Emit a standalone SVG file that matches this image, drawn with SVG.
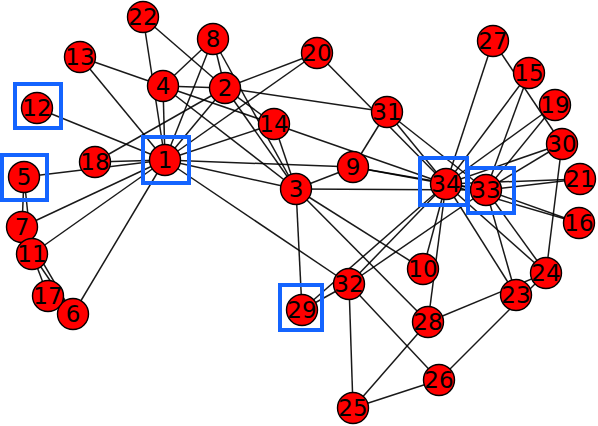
<svg xmlns="http://www.w3.org/2000/svg" width="598" height="426" viewBox="0 0 598 426">
<style>
.e line{stroke:#000;stroke-width:1.5;stroke-opacity:0.9}
.n circle{fill:#ff0000;stroke:#000;stroke-width:1.4}
.n text{font-family:"DejaVu Sans",sans-serif;font-size:23px;fill:#000;text-anchor:middle}
.hl rect{fill:none;stroke:#1464ff;stroke-width:4}
</style>
<rect width="598" height="426" fill="#fff"/>
<g id="edges" class="e">
<line x1="165" y1="160" x2="225" y2="88"/>
<line x1="165" y1="160" x2="296" y2="189"/>
<line x1="165" y1="160" x2="163" y2="86"/>
<line x1="165" y1="160" x2="24" y2="177"/>
<line x1="165" y1="160" x2="73" y2="314"/>
<line x1="165" y1="160" x2="22" y2="227"/>
<line x1="165" y1="160" x2="213" y2="39"/>
<line x1="165" y1="160" x2="353" y2="167"/>
<line x1="165" y1="160" x2="32" y2="254"/>
<line x1="165" y1="160" x2="37" y2="108"/>
<line x1="165" y1="160" x2="80" y2="57"/>
<line x1="165" y1="160" x2="274" y2="124"/>
<line x1="165" y1="160" x2="95" y2="162"/>
<line x1="165" y1="160" x2="317" y2="53"/>
<line x1="165" y1="160" x2="143" y2="17"/>
<line x1="165" y1="160" x2="349" y2="284"/>
<line x1="225" y1="88" x2="296" y2="189"/>
<line x1="225" y1="88" x2="163" y2="86"/>
<line x1="225" y1="88" x2="213" y2="39"/>
<line x1="225" y1="88" x2="274" y2="124"/>
<line x1="225" y1="88" x2="95" y2="162"/>
<line x1="225" y1="88" x2="317" y2="53"/>
<line x1="225" y1="88" x2="143" y2="17"/>
<line x1="225" y1="88" x2="387" y2="112"/>
<line x1="296" y1="189" x2="163" y2="86"/>
<line x1="296" y1="189" x2="213" y2="39"/>
<line x1="296" y1="189" x2="353" y2="167"/>
<line x1="296" y1="189" x2="423" y2="269"/>
<line x1="296" y1="189" x2="274" y2="124"/>
<line x1="296" y1="189" x2="428" y2="322"/>
<line x1="296" y1="189" x2="302" y2="310"/>
<line x1="296" y1="189" x2="486" y2="190"/>
<line x1="163" y1="86" x2="213" y2="39"/>
<line x1="163" y1="86" x2="80" y2="57"/>
<line x1="163" y1="86" x2="274" y2="124"/>
<line x1="24" y1="177" x2="22" y2="227"/>
<line x1="24" y1="177" x2="32" y2="254"/>
<line x1="73" y1="314" x2="22" y2="227"/>
<line x1="73" y1="314" x2="32" y2="254"/>
<line x1="73" y1="314" x2="48" y2="296"/>
<line x1="22" y1="227" x2="48" y2="296"/>
<line x1="353" y1="167" x2="387" y2="112"/>
<line x1="353" y1="167" x2="486" y2="190"/>
<line x1="353" y1="167" x2="446" y2="184"/>
<line x1="423" y1="269" x2="446" y2="184"/>
<line x1="274" y1="124" x2="446" y2="184"/>
<line x1="529" y1="73" x2="486" y2="190"/>
<line x1="529" y1="73" x2="446" y2="184"/>
<line x1="579" y1="223" x2="486" y2="190"/>
<line x1="579" y1="223" x2="446" y2="184"/>
<line x1="555" y1="105" x2="486" y2="190"/>
<line x1="555" y1="105" x2="446" y2="184"/>
<line x1="317" y1="53" x2="446" y2="184"/>
<line x1="580" y1="179" x2="486" y2="190"/>
<line x1="580" y1="179" x2="446" y2="184"/>
<line x1="516" y1="295" x2="486" y2="190"/>
<line x1="516" y1="295" x2="446" y2="184"/>
<line x1="546" y1="273" x2="439" y2="380"/>
<line x1="546" y1="273" x2="428" y2="322"/>
<line x1="546" y1="273" x2="562" y2="144"/>
<line x1="546" y1="273" x2="486" y2="190"/>
<line x1="546" y1="273" x2="446" y2="184"/>
<line x1="353" y1="408" x2="439" y2="380"/>
<line x1="353" y1="408" x2="428" y2="322"/>
<line x1="353" y1="408" x2="349" y2="284"/>
<line x1="439" y1="380" x2="349" y2="284"/>
<line x1="493" y1="41" x2="562" y2="144"/>
<line x1="493" y1="41" x2="446" y2="184"/>
<line x1="428" y1="322" x2="446" y2="184"/>
<line x1="302" y1="310" x2="349" y2="284"/>
<line x1="302" y1="310" x2="446" y2="184"/>
<line x1="562" y1="144" x2="486" y2="190"/>
<line x1="562" y1="144" x2="446" y2="184"/>
<line x1="387" y1="112" x2="486" y2="190"/>
<line x1="387" y1="112" x2="446" y2="184"/>
<line x1="349" y1="284" x2="486" y2="190"/>
<line x1="349" y1="284" x2="446" y2="184"/>
<line x1="486" y1="190" x2="446" y2="184"/>
</g>
<g id="n1" class="n"><circle cx="165" cy="160" r="15.5"/><text x="165" y="168">1</text></g>
<g id="n2" class="n"><circle cx="225" cy="88" r="15.5"/><text x="225" y="96">2</text></g>
<g id="n3" class="n"><circle cx="296" cy="189" r="15.5"/><text x="296" y="197">3</text></g>
<g id="n4" class="n"><circle cx="163" cy="86" r="15.5"/><text x="163" y="94">4</text></g>
<g id="n5" class="n"><circle cx="24" cy="177" r="15.5"/><text x="24" y="185">5</text></g>
<g id="n6" class="n"><circle cx="73" cy="314" r="15.5"/><text x="73" y="322">6</text></g>
<g id="n7" class="n"><circle cx="22" cy="227" r="15.5"/><text x="22" y="235">7</text></g>
<g id="n8" class="n"><circle cx="213" cy="39" r="15.5"/><text x="213" y="47">8</text></g>
<g id="n9" class="n"><circle cx="353" cy="167" r="15.5"/><text x="353" y="175">9</text></g>
<g id="n10" class="n"><circle cx="423" cy="269" r="15.5"/><text x="423" y="277">10</text></g>
<g id="n11" class="n"><circle cx="32" cy="254" r="15.5"/><text x="32" y="262">11</text></g>
<g id="n12" class="n"><circle cx="37" cy="108" r="15.5"/><text x="37" y="116">12</text></g>
<g id="n13" class="n"><circle cx="80" cy="57" r="15.5"/><text x="80" y="65">13</text></g>
<g id="n14" class="n"><circle cx="274" cy="124" r="15.5"/><text x="274" y="132">14</text></g>
<g id="n15" class="n"><circle cx="529" cy="73" r="15.5"/><text x="529" y="81">15</text></g>
<g id="n16" class="n"><circle cx="579" cy="223" r="15.5"/><text x="579" y="231">16</text></g>
<g id="n17" class="n"><circle cx="48" cy="296" r="15.5"/><text x="48" y="304">17</text></g>
<g id="n18" class="n"><circle cx="95" cy="162" r="15.5"/><text x="95" y="170">18</text></g>
<g id="n19" class="n"><circle cx="555" cy="105" r="15.5"/><text x="555" y="113">19</text></g>
<g id="n20" class="n"><circle cx="317" cy="53" r="15.5"/><text x="317" y="61">20</text></g>
<g id="n21" class="n"><circle cx="580" cy="179" r="15.5"/><text x="580" y="187">21</text></g>
<g id="n22" class="n"><circle cx="143" cy="17" r="15.5"/><text x="143" y="25">22</text></g>
<g id="n23" class="n"><circle cx="516" cy="295" r="15.5"/><text x="516" y="303">23</text></g>
<g id="n24" class="n"><circle cx="546" cy="273" r="15.5"/><text x="546" y="281">24</text></g>
<g id="n25" class="n"><circle cx="353" cy="408" r="15.5"/><text x="353" y="416">25</text></g>
<g id="n26" class="n"><circle cx="439" cy="380" r="15.5"/><text x="439" y="388">26</text></g>
<g id="n27" class="n"><circle cx="493" cy="41" r="15.5"/><text x="493" y="49">27</text></g>
<g id="n28" class="n"><circle cx="428" cy="322" r="15.5"/><text x="428" y="330">28</text></g>
<g id="n29" class="n"><circle cx="302" cy="310" r="15.5"/><text x="302" y="318">29</text></g>
<g id="n30" class="n"><circle cx="562" cy="144" r="15.5"/><text x="562" y="152">30</text></g>
<g id="n31" class="n"><circle cx="387" cy="112" r="15.5"/><text x="387" y="120">31</text></g>
<g id="n32" class="n"><circle cx="349" cy="284" r="15.5"/><text x="349" y="292">32</text></g>
<g id="n33" class="n"><circle cx="486" cy="190" r="15.5"/><text x="486" y="198">33</text></g>
<g id="n34" class="n"><circle cx="446" cy="184" r="15.5"/><text x="446" y="192">34</text></g>
<g id="highlights" class="hl">
<rect x="15" y="84" width="46" height="44"/>
<rect x="2" y="155" width="45" height="45"/>
<rect x="143" y="137" width="46" height="46"/>
<rect x="420" y="158" width="47" height="47"/>
<rect x="468" y="168" width="46" height="45"/>
<rect x="280" y="285" width="42" height="45"/>
</g>
</svg>
